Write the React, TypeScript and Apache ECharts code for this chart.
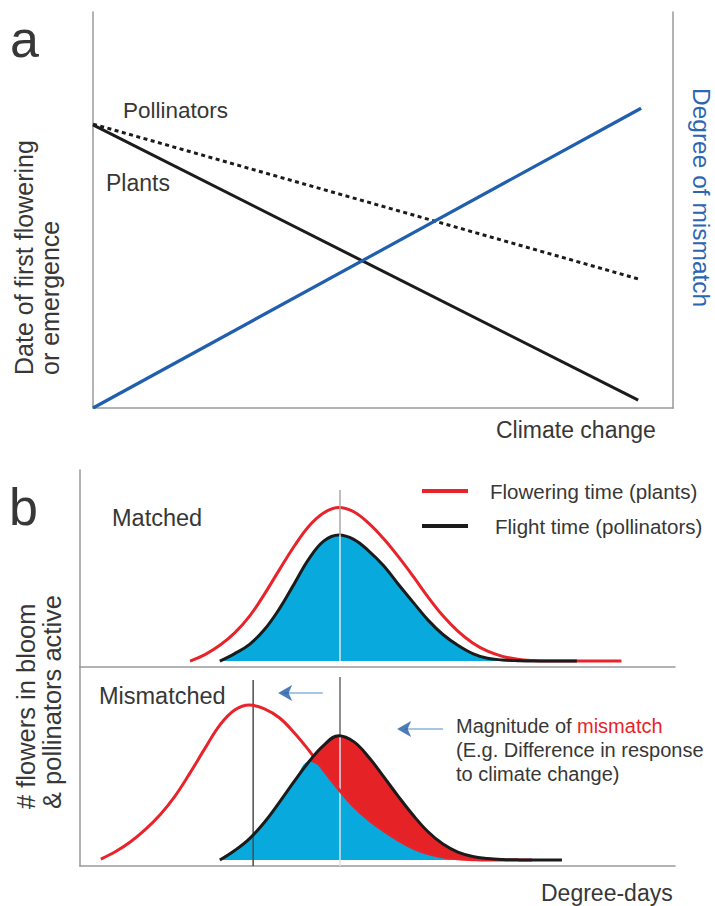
import React, { useEffect, useRef } from 'react';
import * as echarts from 'echarts';

// ---------- Panel a: phenology vs climate change ----------
const climateX = [0, 94];
const plantsDate = [71.5, 2.0];
const pollinatorsDate = [71.7, 32.6];
const mismatchX = [0, 94.5];
const mismatchDegree = [0, 75.7];

// ---------- Panel b (matched) ----------
const matchedDays = [18.5, 21, 23.5, 26, 28.5, 31, 33.5, 36, 38.5, 41, 43.5, 46, 48.5, 51, 53.5, 56, 58.5, 61, 63.5, 66, 68.5, 71, 73.5, 76, 78.5, 81, 83.5, 86, 88.5, 91];
const matchedFlowerY: (number | null)[] = [0, 3.3, 8, 14.3, 22.8, 34, 46.3, 58.3, 68.6, 75.3, 78, 75.8, 70, 62.2, 53, 43, 32.5, 23, 15.2, 9.2, 5, 2.4, 1, 0.3, 0, 0, 0, 0, 0, 0];
const matchedFlightY: (number | null)[] = [null, null, 0, 3.8, 8.5, 16, 26.5, 39.2, 52, 61, 64, 61.8, 56, 48.5, 39, 29.8, 20.8, 13.5, 8, 3.8, 1.4, 0.6, 0.2, 0, 0, 0, 0, null, null, null];

// ---------- Panel b (mismatched) ----------
const mismatchedDays = [3.5, 6, 8.5, 11, 13.5, 16, 18.5, 21, 23.5, 26, 28.5, 31, 33.5, 36, 38.5, 41, 43.5, 46, 48.5, 51, 53.5, 56, 58.5, 61, 63.5, 66, 68.5, 71, 73.5, 76, 78.5, 81];
const mismatchedFlowerY: (number | null)[] = [0.5, 4.3, 9.2, 15.4, 22.9, 32.3, 43.8, 56.1, 67.8, 75.4, 77.9, 76, 71.5, 64, 55, 45, 35.5, 27, 20.3, 14.8, 10, 6, 3.2, 1.5, 0.6, 0.2, 0, 0, 0, 0, null, null];
const mismatchedFlightY: (number | null)[] = [null, null, null, null, null, null, null, null, 0, 4.8, 10.8, 19, 29, 39.5, 49.5, 57.8, 62.5, 59.5, 51.8, 42, 32, 22.5, 14.2, 8, 4, 1.8, 0.8, 0.3, 0.1, 0, 0, 0];

// guide positions (x in degree-day units, y in activity units)
const matchedPeakX = 43.7;
const shiftedPeakX = 29.1;
const matchedGuide = [86.8, 64, 0];
const shiftedGuide = [90.5, -3];
const mismatchedGuide = [92, 62.5, -3];
const arrow1 = { y: 83.9, from: 40.8, to: 34.2, head: 33.3 };
const arrow2 = { y: 65.8, from: 61.0, to: 54.6, head: 53.3 };

const FONT = '"Liberation Sans", Arial, Helvetica, sans-serif';
const TXT = '#373737';
const RED = '#e8232a';
const BLACK = '#1b1b1b';
const BLUE_LINE = '#1f5fae';
const FILL_BLUE = '#08aade';
const FILL_RED = '#e52226';
const AXIS = '#9a9a9a';

const zip = (xs: number[], ys: (number | null)[]) => xs.map((x, i) => [x, ys[i]]);

function txt(text: string, x: number, y: number, size: number, opts: any = {}) {
  return {
    type: 'text',
    x,
    y,
    rotation: opts.rotation || 0,
    silent: true,
    style: {
      text,
      fontSize: size,
      fontFamily: FONT,
      fill: opts.color || TXT,
      align: opts.align || 'left',
      verticalAlign: 'middle',
    },
  };
}

export default function App() {
  const ref = useRef<HTMLDivElement>(null);

  useEffect(() => {
    if (!ref.current) return;
    const chart = echarts.init(ref.current, undefined, { renderer: 'svg' });

    const axisLine = { show: true, onZero: false, lineStyle: { color: AXIS, width: 1.5 } };
    const hidden = { axisTick: { show: false }, axisLabel: { show: false }, splitLine: { show: false } };

    const overlapY = mismatchedFlowerY.map((r, i) => {
      const b = mismatchedFlightY[i];
      if (r == null || b == null) return null;
      return Math.min(r, b);
    });

    const vline = (xi: number, yi: number, x: number, y0: number, y1: number, color: string, z: number) => ({
      type: 'line',
      xAxisIndex: xi,
      yAxisIndex: yi,
      data: [[x, y0], [x, y1]],
      symbol: 'none',
      silent: true,
      z,
      lineStyle: { color, width: 1.5 },
    });

    const SM = 0.4;
    const legendText = { fontSize: 20.5, color: TXT, fontFamily: FONT, lineHeight: 24 };

    const option: any = {
      animation: false,
      grid: [
        { left: 93, top: 12, width: 580, height: 396 },
        { left: 80, top: 470, width: 595, height: 197 },
        { left: 80, top: 667, width: 595, height: 199 },
      ],
      xAxis: [
        { type: 'value', gridIndex: 0, min: 0, max: 100, axisLine, ...hidden },
        { type: 'value', gridIndex: 1, min: 0, max: 100, axisLine, ...hidden },
        { type: 'value', gridIndex: 2, min: 0, max: 100, axisLine, ...hidden },
      ],
      yAxis: [
        { type: 'value', gridIndex: 0, min: 0, max: 100, axisLine, ...hidden },
        { type: 'value', gridIndex: 0, min: 0, max: 100, position: 'right', axisLine, ...hidden },
        { type: 'value', gridIndex: 1, min: -3, max: 97, axisLine, ...hidden },
        { type: 'value', gridIndex: 2, min: -3, max: 97, axisLine, ...hidden },
      ],
      legend: {
        orient: 'vertical',
        left: 422,
        top: 479,
        padding: 0,
        itemWidth: 46,
        itemHeight: 4,
        itemGap: 11,
        icon: 'rect',
        selectedMode: false,
        data: [
          {
            name: 'Flowering time (plants)',
            itemStyle: { color: RED },
            textStyle: { ...legendText, padding: [0, 0, 0, 17] },
          },
          {
            name: 'Flight time (pollinators)',
            itemStyle: { color: BLACK },
            textStyle: { ...legendText, padding: [0, 0, 0, 22] },
          },
        ],
        textStyle: { ...legendText, padding: [0, 0, 0, 17] },
      },
      series: [
        // panel a
        {
          name: 'Plants',
          type: 'line',
          xAxisIndex: 0,
          yAxisIndex: 0,
          data: zip(climateX, plantsDate),
          symbol: 'none',
          lineStyle: { color: BLACK, width: 3 },
        },
        {
          name: 'Pollinators',
          type: 'line',
          xAxisIndex: 0,
          yAxisIndex: 0,
          data: zip(climateX, pollinatorsDate),
          symbol: 'none',
          lineStyle: { color: BLACK, width: 3, type: [4, 3.5] },
        },
        {
          name: 'Degree of mismatch',
          type: 'line',
          xAxisIndex: 0,
          yAxisIndex: 1,
          data: zip(mismatchX, mismatchDegree),
          symbol: 'none',
          lineStyle: { color: BLUE_LINE, width: 3.2 },
        },
        // panel b matched
        {
          name: 'Flowering time (plants)',
          type: 'line',
          xAxisIndex: 1,
          yAxisIndex: 2,
          data: zip(matchedDays, matchedFlowerY),
          symbol: 'none',
          smooth: SM,
          z: 3,
          itemStyle: { color: RED },
          lineStyle: { color: RED, width: 3 },
        },
        {
          name: 'Flight time (pollinators)',
          type: 'line',
          xAxisIndex: 1,
          yAxisIndex: 2,
          data: zip(matchedDays, matchedFlightY),
          symbol: 'none',
          smooth: SM,
          z: 4,
          itemStyle: { color: BLACK },
          lineStyle: { color: BLACK, width: 3 },
          areaStyle: { color: FILL_BLUE, opacity: 1 },
        },
        vline(1, 2, matchedPeakX, matchedGuide[0], matchedGuide[1], '#a9a9a9', 6),
        vline(1, 2, matchedPeakX, matchedGuide[1], matchedGuide[2], '#dbe7ee', 6),
        // panel b mismatched
        {
          name: 'Mismatch area',
          type: 'line',
          xAxisIndex: 2,
          yAxisIndex: 3,
          data: zip(mismatchedDays, mismatchedFlightY),
          symbol: 'none',
          smooth: SM,
          z: 1,
          lineStyle: { width: 0, opacity: 0 },
          areaStyle: { color: FILL_RED, opacity: 1 },
        },
        {
          name: 'Overlap area',
          type: 'line',
          xAxisIndex: 2,
          yAxisIndex: 3,
          data: zip(mismatchedDays, overlapY),
          symbol: 'none',
          smooth: SM,
          z: 2,
          lineStyle: { width: 0, opacity: 0 },
          areaStyle: { color: FILL_BLUE, opacity: 1 },
        },
        vline(2, 3, shiftedPeakX, shiftedGuide[0], shiftedGuide[1], '#4d4d4d', 3),
        vline(2, 3, matchedPeakX, mismatchedGuide[0], mismatchedGuide[1], '#6a6a6a', 3),
        vline(2, 3, matchedPeakX, mismatchedGuide[1], mismatchedGuide[2], '#d9e3ea', 3),
        {
          name: 'Flowering (mismatched)',
          type: 'line',
          xAxisIndex: 2,
          yAxisIndex: 3,
          data: zip(mismatchedDays, mismatchedFlowerY),
          symbol: 'none',
          smooth: SM,
          z: 4,
          lineStyle: { color: RED, width: 3 },
        },
        {
          name: 'Flight (mismatched)',
          type: 'line',
          xAxisIndex: 2,
          yAxisIndex: 3,
          data: zip(mismatchedDays, mismatchedFlightY),
          symbol: 'none',
          smooth: SM,
          z: 5,
          lineStyle: { color: BLACK, width: 3 },
        },
        // arrows
        ...[arrow1, arrow2].flatMap((a) => [
          {
            type: 'line',
            xAxisIndex: 2,
            yAxisIndex: 3,
            data: [[a.from, a.y], [a.to, a.y]],
            symbol: 'none',
            silent: true,
            z: 6,
            lineStyle: { color: '#a9c5e4', width: 2 },
          },
          {
            type: 'scatter',
            xAxisIndex: 2,
            yAxisIndex: 3,
            data: [[a.head, a.y]],
            symbol: 'arrow',
            symbolSize: [12, 14],
            symbolRotate: 90,
            silent: true,
            z: 7,
            itemStyle: { color: '#1f5aa8' },
          },
        ]),
      ],
      graphic: [
        txt('a', 10, 39, 52),
        txt('Pollinators', 123, 110, 22.5),
        txt('Plants', 106, 183, 23),
        txt('Climate change', 496, 429.5, 23),
        txt('Date of first flowering', 24, 375, 25, { rotation: Math.PI / 2 }),
        txt('or emergence', 49.5, 375, 25, { rotation: Math.PI / 2 }),
        txt('Degree of mismatch', 701, 88, 24.5, { rotation: -Math.PI / 2, color: '#2b66b2' }),
        txt('b', 9, 507, 52),
        txt('Matched', 112, 517.5, 23.5),
        txt('Mismatched', 99, 696, 23.5),
        txt('Magnitude of ', 456, 725.5, 20),
        txt('mismatch', 577, 725.5, 20, { color: RED }),
        txt('(E.g. Difference in response', 456, 749.5, 20),
        txt('to climate change)', 456, 773.5, 20),
        txt('Degree-days', 541, 892.5, 23),
        txt('# flowers in bloom', 26, 809, 25.5, { rotation: Math.PI / 2 }),
        txt('& pollinators active', 52, 809, 25.5, { rotation: Math.PI / 2 }),
      ],
    };

    chart.setOption(option);
    return () => chart.dispose();
  }, []);

  return (
    <div
      ref={ref}
      style={{ position: 'absolute', left: 0, top: 0, width: 715, height: 906, background: '#fff' }}
    />
  );
}
